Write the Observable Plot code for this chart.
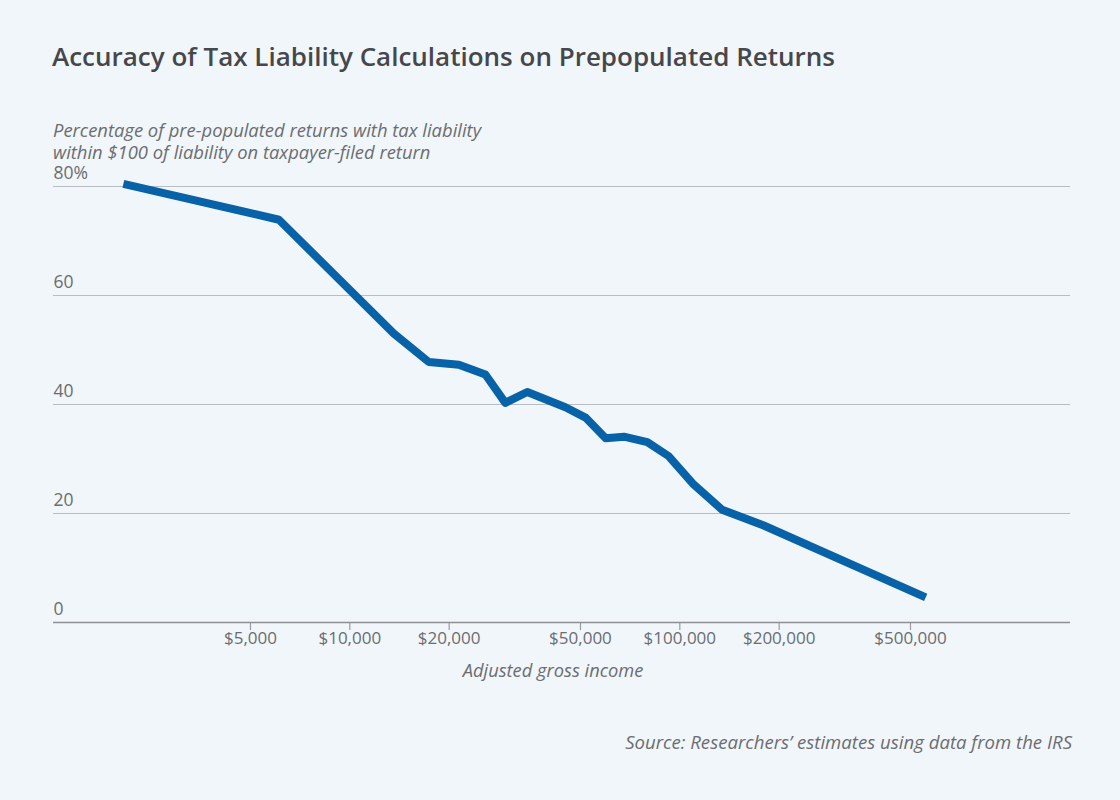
<!DOCTYPE html>
<html>
<head>
<meta charset="utf-8">
<script src="https://cdn.jsdelivr.net/npm/d3@7"></script>
<script src="https://cdn.jsdelivr.net/npm/@observablehq/plot@0.6"></script>
<style>
  html, body { margin: 0; padding: 0; }
  body { width: 1120px; height: 800px; background: #f1f6fa; position: relative; overflow: hidden; font-family: "Open Sans", sans-serif; }
  .title { position: absolute; left: 52px; top: 38px; font-family: "Open Sans", sans-serif; font-weight: 600; font-size: 26px; color: #46474b; white-space: nowrap; }
  .ytitle { position: absolute; left: 53px; font-style: italic; font-size: 18.4px; line-height: 18.4px; color: #6b6d71; white-space: nowrap; }
  .xtitle { position: absolute; left: 553px; top: 657px; transform: translateX(-50%); font-style: italic; font-size: 18.3px; color: #6b6d71; white-space: nowrap; }
  .source { position: absolute; right: 48px; top: 729px; font-style: italic; font-size: 18.6px; color: #6b6d71; white-space: nowrap; }
  #chart { position: absolute; left: 0; top: 160px; }
</style>
</head>
<body>
<div class="title">Accuracy of Tax Liability Calculations on Prepopulated Returns</div>
<div class="ytitle" style="top:121px">Percentage of pre-populated returns with tax liability</div>
<div class="ytitle" style="top:142.5px">within $100 of liability on taxpayer-filed return</div>
<div id="chart"></div>
<div class="xtitle">Adjusted gross income</div>
<div class="source">Source: Researchers’ estimates using data from the IRS</div>
<script>
// Adjusted gross income (dollars, log scale)
const income = [2060, 6100, 13600, 17350, 21400, 25750, 29600, 34500, 45000, 51800, 59600, 67700, 79700, 92600, 110200, 134300, 179600, 556000];
// Percentage of returns within $100
const share = [80.5, 73.9, 53.0, 47.8, 47.3, 45.5, 40.3, 42.3, 39.5, 37.6, 33.8, 34.1, 33.1, 30.5, 25.3, 20.7, 17.8, 4.6];
const xTicks = [5000, 10000, 20000, 50000, 100000, 200000, 500000];
const yTicks = [0, 20, 40, 60, 80];

const data = income.map((d, i) => ({income: d, share: share[i]}));
const fmt = d3.format(",");

const chart = Plot.plot({
  width: 1120,
  height: 540,
  marginLeft: 53,
  marginRight: 50,
  marginTop: 26,
  marginBottom: 78,
  style: { background: "transparent", fontFamily: "Open Sans, sans-serif" },
  x: { type: "log", domain: [1265, 1527000] },
  y: { domain: [0, 80] },
  marks: [
    Plot.gridY(yTicks.filter(d => d > 0), { stroke: "#b9bcc0", strokeOpacity: 1, strokeWidth: 1.2 }),
    Plot.axisY(yTicks, {
      anchor: "left", tickSize: 0, tickPadding: 0, textAnchor: "start", dy: -13,
      fontSize: 17.5, fill: "#6b6d71", label: null,
      tickFormat: d => d === 80 ? "80%" : String(d)
    }),
    Plot.axisX(xTicks, {
      anchor: "bottom", tickSize: 8, stroke: "#9a9ca0", strokeWidth: 1.2,
      tickFormat: () => "", label: null
    }),
    Plot.text(xTicks, {
      x: d => d, frameAnchor: "bottom", dy: 21, text: d => "$" + fmt(d),
      fontSize: 17, fill: "#6b6d71"
    }),
    Plot.ruleY([0], { stroke: "#8e9094", strokeWidth: 1.3 }),
    Plot.line(data, { x: "income", y: "share", stroke: "#0762a8", strokeWidth: 8, strokeLinecap: "butt", strokeLinejoin: "round" })
  ]
});
document.getElementById("chart").appendChild(chart);
</script>
</body>
</html>
